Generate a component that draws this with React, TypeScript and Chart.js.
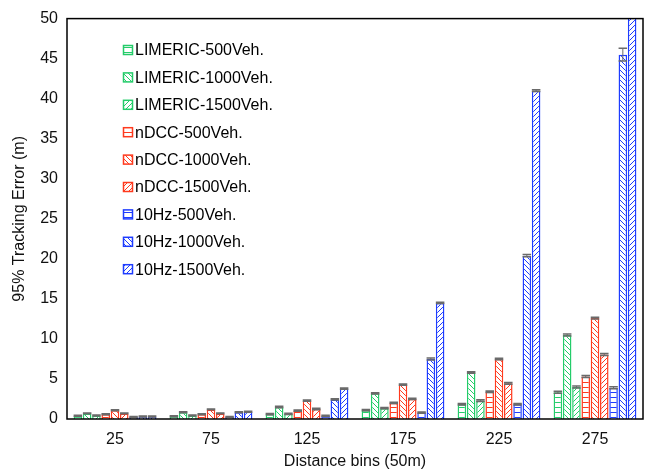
import React, { useEffect, useRef } from "react";
import { Chart, registerables } from "chart.js";
Chart.register(...registerables);

const categories = ["25", "75", "125", "175", "225", "275"];
const seriesNames = [
  "LIMERIC-500Veh.", "LIMERIC-1000Veh.", "LIMERIC-1500Veh.",
  "nDCC-500Veh.", "nDCC-1000Veh.", "nDCC-1500Veh.",
  "10Hz-500Veh.", "10Hz-1000Veh.", "10Hz-1500Veh.",
];
const limeric500 = [0.4, 0.35, 0.6, 1.1, 1.85, 3.35];
const limeric1000 = [0.7, 0.85, 1.5, 3.2, 5.8, 10.5];
const limeric1500 = [0.45, 0.45, 0.65, 1.35, 2.3, 4.0];
const ndcc500 = [0.6, 0.6, 1.05, 2.0, 3.4, 5.3];
const ndcc1000 = [1.1, 1.2, 2.3, 4.3, 7.5, 12.6];
const ndcc1500 = [0.7, 0.7, 1.25, 2.5, 4.45, 8.05];
const hz500 = [0.25, 0.25, 0.4, 0.8, 1.85, 3.9];
const hz1000 = [0.3, 0.85, 2.45, 7.5, 20.4, 45.5];
const hz1500 = [0.3, 0.9, 3.8, 14.5, 41.0, 56];
const seriesValues = [limeric500, limeric1000, limeric1500, ndcc500, ndcc1000, ndcc1500, hz500, hz1000, hz1500];
const errSmall = [0.06, 0.06, 0.08, 0.08, 0.1, 0.12];
const errHz1000 = [0.06, 0.06, 0.08, 0.12, 0.15, 0.8];
const seriesErrors = [errSmall, errSmall, errSmall, errSmall, errSmall, errSmall, errSmall, errHz1000, errSmall];
const yTicks = [0, 5, 10, 15, 20, 25, 30, 35, 40, 45, 50];

const GREEN = "#24cc6a";
const RED = "#ff3a1e";
const BLUE = "#1e3cff";
const seriesColors = [GREEN, GREEN, GREEN, RED, RED, RED, BLUE, BLUE, BLUE];
const seriesPatterns = ["h", "b", "f", "h", "b", "f", "h", "b", "f"];

function makePattern(color: string, kind: string): CanvasPattern | string {
  const c = document.createElement("canvas");
  const s = 5;
  c.width = kind === "h" ? 4 : s;
  c.height = s;
  const ctx = c.getContext("2d");
  if (!ctx) return "#fff";
  ctx.fillStyle = "#fff";
  ctx.fillRect(0, 0, c.width, c.height);
  ctx.strokeStyle = color;
  ctx.lineWidth = 1;
  ctx.beginPath();
  if (kind === "h") {
    ctx.moveTo(0, 2.5);
    ctx.lineTo(c.width, 2.5);
  } else if (kind === "b") {
    for (let k = -1; k <= 1; k++) {
      ctx.moveTo(k * s, 0);
      ctx.lineTo(k * s + s, s);
    }
  } else {
    for (let k = -1; k <= 1; k++) {
      ctx.moveTo(k * s, s);
      ctx.lineTo(k * s + s, 0);
    }
  }
  ctx.stroke();
  const p = ctx.createPattern(c, "repeat");
  return p || "#fff";
}

const FONT = "'Liberation Sans', Arial, sans-serif";

export default function App() {
  const ref = useRef<HTMLCanvasElement | null>(null);
  useEffect(() => {
    if (!ref.current) return;
    const patterns = seriesColors.map((c, i) => makePattern(c, seriesPatterns[i]));

    const errorBars = {
      id: "errorBars",
      afterDatasetsDraw(chart: any) {
        const ctx = chart.ctx;
        const ys = chart.scales.y;
        const area = chart.chartArea;
        ctx.save();
        ctx.beginPath();
        ctx.rect(area.left, area.top, area.right - area.left, area.bottom - area.top);
        ctx.clip();
        ctx.strokeStyle = "#6a6a6a";
        chart.data.datasets.forEach((ds: any, i: number) => {
          const meta = chart.getDatasetMeta(i);
          meta.data.forEach((bar: any, j: number) => {
            const v = ds.data[j];
            const e = seriesErrors[i][j];
            const yt = ys.getPixelForValue(v + e);
            const yb = ys.getPixelForValue(v - e);
            const hw = bar.width / 2;
            ctx.lineWidth = 1;
            ctx.beginPath();
            ctx.moveTo(bar.x, yb);
            ctx.lineTo(bar.x, yt);
            ctx.stroke();
            ctx.lineWidth = 1.5;
            ctx.beginPath();
            ctx.moveTo(bar.x - hw, yt);
            ctx.lineTo(bar.x + hw, yt);
            ctx.moveTo(bar.x - hw, yb);
            ctx.lineTo(bar.x + hw, yb);
            ctx.stroke();
          });
        });
        ctx.restore();
      },
    };

    const frameAndLegend = {
      id: "frameAndLegend",
      afterDraw(chart: any) {
        const ctx = chart.ctx;
        const a = chart.chartArea;
        ctx.save();
        ctx.strokeStyle = "#000";
        ctx.lineWidth = 1.5;
        ctx.strokeRect(a.left, a.top, a.right - a.left, a.bottom - a.top);
        ctx.font = "16px " + FONT;
        ctx.textBaseline = "middle";
        ctx.textAlign = "left";
        seriesNames.forEach((name, i) => {
          const cy = 50 + i * 27.4;
          const bx = 123.5;
          const by = cy - 4.5;
          ctx.fillStyle = patterns[i];
          ctx.fillRect(bx, by, 9, 9);
          ctx.strokeStyle = seriesColors[i];
          ctx.lineWidth = 1.5;
          ctx.strokeRect(bx, by, 9, 9);
          ctx.fillStyle = "#000";
          ctx.fillText(name, 135, cy + 1);
        });
        ctx.restore();
      },
    };

    const chart = new Chart(ref.current, {
      type: "bar",
      data: {
        labels: categories,
        datasets: seriesNames.map((name, i) => ({
          label: name,
          data: seriesValues[i],
          backgroundColor: patterns[i] as any,
          borderColor: seriesColors[i],
          borderWidth: 1.5,
          barPercentage: 0.92,
          categoryPercentage: 0.87,
        })),
      },
      options: {
        responsive: false,
        animation: false,
        layout: { padding: { top: 16, right: 3, left: 0, bottom: 0 } },
        plugins: { legend: { display: false }, tooltip: { enabled: false } },
        scales: {
          x: {
            grid: { display: false, drawTicks: false },
            border: { display: false },
            ticks: { color: "#111", font: { family: FONT, size: 16 }, padding: 11 },
            title: {
              display: true,
              text: "Distance bins (50m)",
              color: "#111",
              font: { family: FONT, size: 16 },
              padding: { top: 0, bottom: 1 },
            },
            afterFit(scale: any) { scale.height = 53; },
          },
          y: {
            min: 0,
            max: 50,
            grid: { display: false, drawTicks: false },
            border: { display: false },
            afterBuildTicks(scale: any) { scale.ticks = yTicks.map((v) => ({ value: v })); },
            ticks: { color: "#111", font: { family: FONT, size: 16 }, padding: 9 },
            title: {
              display: true,
              text: "95% Tracking Error (m)",
              color: "#111",
              font: { family: FONT, size: 16 },
              padding: { top: 10, bottom: 0 },
            },
            afterFit(scale: any) { scale.width = 67; },
          },
        },
      },
      plugins: [errorBars, frameAndLegend],
    });
    return () => chart.destroy();
  }, []);
  return (
    <div style={{ position: "absolute", left: 0, top: 0, width: 646, height: 472, background: "#fff" }}>
      <canvas ref={ref} width={646} height={472} />
    </div>
  );
}
